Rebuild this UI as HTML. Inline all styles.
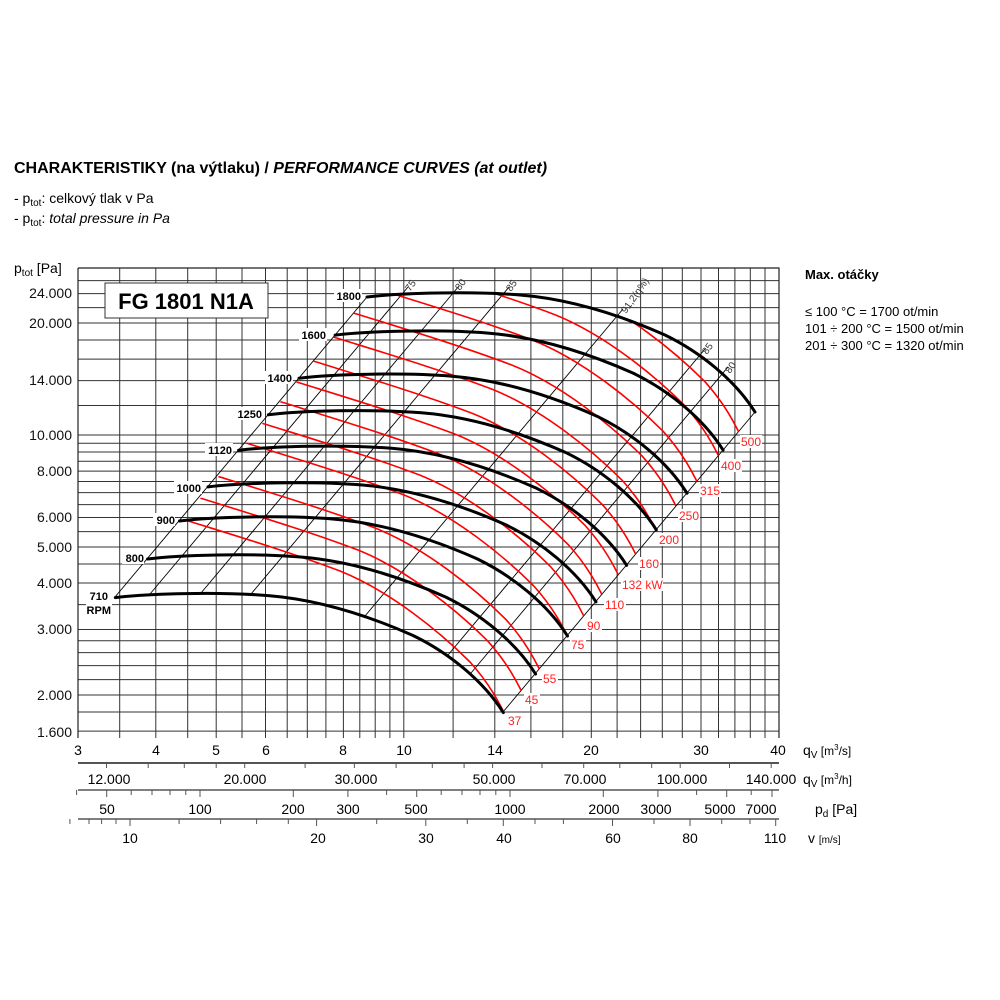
<!DOCTYPE html>
<html><head><meta charset="utf-8"><style>
body{margin:0;background:#fff;}
svg{display:block;font-family:"Liberation Sans",Arial,sans-serif;}
</style></head><body>
<svg width="1000" height="1000" viewBox="0 0 1000 1000" xmlns="http://www.w3.org/2000/svg">
<defs>
<path id="bk" fill="none" stroke="#000" stroke-width="3" stroke-linecap="round" d="M367,297 C400,293 470,291 520,295 C570,299 620,315 665,335 C700,352 735,380 755,412"/>
<path id="rd" fill="none" stroke="#f00" stroke-width="1.6" d="M165,513 L182,519 C230,534 290,552 340,571 C390,591 440,632 470,662 C488,682 500,702 512,730"/>
<clipPath id="rc"><path d="M117,599 L367,297 C400,293 470,291 520,295 C570,299 620,315 665,335 C700,352 735,380 755,412 L503,712 Z"/></clipPath>
</defs>
<rect width="1000" height="1000" fill="#fff"/>
<text x="14" y="173" font-size="16" font-weight="bold">CHARAKTERISTIKY (na výtlaku) / <tspan font-style="italic">PERFORMANCE CURVES (at outlet)</tspan></text>
<text x="14" y="203" font-size="14">- p<tspan font-size="10" dy="3">tot</tspan><tspan dy="-3">: celkový tlak v Pa</tspan></text>
<text x="14" y="223" font-size="14">- p<tspan font-size="10" dy="3">tot</tspan><tspan dy="-3">: </tspan><tspan font-style="italic">total pressure in Pa</tspan></text>
<text x="14" y="273" font-size="14">p<tspan font-size="10" dy="3">tot</tspan><tspan dy="-3"> [Pa]</tspan></text>
<g stroke="#333" stroke-width="1">
<path d="M119.7,268V738M155.8,268V738M187.7,268V738M216.2,268V738M242,268V738M265.5,268V738M287.2,268V738M307.3,268V738M325.9,268V738M343.4,268V738M359.8,268V738M375.2,268V738M389.9,268V738M403.8,268V738M453.1,268V738M494.8,268V738M530.9,268V738M562.8,268V738M591.3,268V738M617.1,268V738M640.6,268V738M662.3,268V738M682.3,268V738M701,268V738M718.5,268V738M734.9,268V738M750.3,268V738M765,268V738"/>
<path d="M78,280.6H779M78,293.6H779M78,307.6H779M78,323H779M78,340H779M78,359.1H779M78,380.6H779M78,405.5H779M78,435H779M78,443.3H779M78,452H779M78,461.3H779M78,471.1H779M78,481.5H779M78,492.6H779M78,504.6H779M78,517.5H779M78,531.6H779M78,547H779M78,564H779M78,583H779M78,604.6H779M78,629.5H779M78,640.7H779M78,652.6H779M78,665.6H779M78,679.6H779M78,695H779M78,712H779M78,731.1H779"/>
</g>
<path d="M78,268H779V738M78,268V738" fill="none" stroke="#222" stroke-width="1.2"/>
<g font-size="14" text-anchor="end" fill="#111">
<text x="72" y="298">24.000</text><text x="72" y="328">20.000</text><text x="72" y="385">14.000</text><text x="72" y="440">10.000</text><text x="72" y="476">8.000</text><text x="72" y="522">6.000</text><text x="72" y="552">5.000</text><text x="72" y="588">4.000</text><text x="72" y="634">3.000</text><text x="72" y="700">2.000</text><text x="72" y="737">1.600</text>
</g>
<rect x="105" y="283" width="163" height="35" fill="#fff" stroke="#333" stroke-width="1"/>
<text x="186" y="309" font-size="22" font-weight="bold" text-anchor="middle">FG 1801 N1A</text>
<g stroke="#000" stroke-width="0.9">
<line x1="115" y1="597" x2="367" y2="297"/>
<line x1="150" y1="594" x2="408" y2="287"/>
<line x1="201" y1="593" x2="459" y2="286"/>
<line x1="251" y1="594" x2="509" y2="287"/>
<line x1="365" y1="616" x2="623" y2="309"/>
<line x1="448" y1="655" x2="705" y2="349"/>
<line x1="471" y1="673" x2="728" y2="367"/>
<line x1="503" y1="712" x2="755" y2="412"/>
</g>
<g font-size="10" fill="#333">
<text transform="translate(410,292) rotate(-55)">75</text>
<text transform="translate(460,291) rotate(-55)">80</text>
<text transform="translate(511,292) rotate(-55)">85</text>
<text transform="translate(626,314) rotate(-55)">91,2(η%)</text>
<text transform="translate(707,355) rotate(-55)">85</text>
<text transform="translate(730,374) rotate(-55)">80</text>
</g>
<g clip-path="url(#rc)">
<use href="#rd"/>
<use href="#rd" transform="translate(17.65,-21.08)"/>
<use href="#rd" transform="translate(35.75,-42.7)"/>
<use href="#rd" transform="translate(63.72,-76.1)"/>
<use href="#rd" transform="translate(80.17,-95.74)"/>
<use href="#rd" transform="translate(98.27,-117.35)"/>
<use href="#rd" transform="translate(114.71,-136.99)"/>
<use href="#rd" transform="translate(132.06,-157.71)"/>
<use href="#rd" transform="translate(152.18,-181.74)"/>
<use href="#rd" transform="translate(172.31,-205.78)"/>
<use href="#rd" transform="translate(193.15,-230.67)"/>
<use href="#rd" transform="translate(214.7,-256.4)"/>
<use href="#rd" transform="translate(234.82,-280.43)"/>
</g>
<use href="#bk"/>
<use href="#bk" transform="translate(-31.9,38.1)"/>
<use href="#bk" transform="translate(-68,81.2)"/>
<use href="#bk" transform="translate(-98.7,117.8)"/>
<use href="#bk" transform="translate(-128.4,153.3)"/>
<use href="#bk" transform="translate(-159,189.9)"/>
<use href="#bk" transform="translate(-187.5,224)"/>
<use href="#bk" transform="translate(-219.4,262)"/>
<use href="#bk" transform="translate(-251.7,300.6)"/>
<g font-size="11" font-weight="bold" text-anchor="end">
<g fill="#fff"><rect x="334" y="289" width="28" height="13"/><rect x="299" y="328" width="28" height="13"/><rect x="265" y="371" width="28" height="13"/><rect x="235" y="407" width="28" height="13"/><rect x="205" y="443" width="28" height="13"/><rect x="174" y="481" width="28" height="13"/><rect x="153" y="513" width="22" height="13"/><rect x="122" y="551" width="22" height="13"/><rect x="86" y="589" width="26" height="28"/></g>
<text x="361" y="300">1800</text><text x="326" y="339">1600</text><text x="292" y="382">1400</text><text x="262" y="418">1250</text><text x="232" y="454">1120</text><text x="201" y="492">1000</text><text x="175" y="524">900</text><text x="144" y="562">800</text>
<text x="108" y="600">710</text><text x="111" y="614">RPM</text>
</g>
<g font-size="12" fill="#f22">
<g fill="#fff"><rect x="507" y="714" width="16" height="13"/><rect x="524" y="693" width="16" height="13"/><rect x="542" y="672" width="16" height="13"/><rect x="570" y="638" width="16" height="13"/><rect x="586" y="619" width="16" height="13"/><rect x="604" y="598" width="22" height="13"/><rect x="621" y="578" width="42" height="13"/><rect x="638" y="557" width="22" height="13"/><rect x="658" y="533" width="22" height="13"/><rect x="678" y="509" width="22" height="13"/><rect x="699" y="484" width="22" height="13"/><rect x="720" y="459" width="22" height="13"/><rect x="740" y="435" width="22" height="13"/></g>
<text x="508" y="725">37</text><text x="525" y="704">45</text><text x="543" y="683">55</text><text x="571" y="649">75</text><text x="587" y="630">90</text><text x="605" y="609">110</text><text x="622" y="589">132 kW</text><text x="639" y="568">160</text><text x="659" y="544">200</text><text x="679" y="520">250</text><text x="700" y="495">315</text><text x="721" y="470">400</text><text x="741" y="446">500</text>
</g>
<text x="805" y="279" font-size="13" font-weight="bold">Max. otáčky</text>
<g font-size="13"><text x="805" y="316">≤ 100 °C = 1700 ot/min</text><text x="805" y="333">101 ÷ 200 °C = 1500 ot/min</text><text x="805" y="350">201 ÷ 300 °C = 1320 ot/min</text></g>
<g font-size="14" text-anchor="middle">
<text x="78" y="755">3</text><text x="156" y="755">4</text><text x="216" y="755">5</text><text x="266" y="755">6</text><text x="343" y="755">8</text><text x="404" y="755">10</text><text x="495" y="755">14</text><text x="591" y="755">20</text><text x="701" y="755">30</text><text x="778" y="755">40</text>
</g>
<text x="803" y="755" font-size="14">q<tspan font-size="10" dy="3">V</tspan><tspan dy="-3" font-size="12"> [m</tspan><tspan font-size="8" dy="-5">3</tspan><tspan font-size="12" dy="5">/s]</tspan></text>
<g stroke="#555" fill="none">
<path d="M78,763H779" stroke-width="2"/>
<path d="M78,790H779" stroke-width="1.5"/>
<path d="M78,819H779" stroke-width="1.5"/>
<path stroke-width="1" d="M106.5,763v5M148.2,763v5M184.3,763v5M216.2,763v5M244.7,763v5M305.1,763v5M354.4,763v5M396.1,763v5M432.3,763v5M464.1,763v5M492.6,763v5M542,763v5M583.7,763v5M619.8,763v5M651.7,763v5M680.2,763v5M729.5,763v5M771.2,763v5"/>
<path stroke-width="1" d="M76.6,790v5M106.7,790v7M131.2,790v5M152,790v5M170,790v5M185.8,790v5M200,790v7M293.3,790v7M347.9,790v7M386.6,790v5M416.7,790v7M441.2,790v5M462,790v5M480,790v5M495.8,790v5M510,790v7M603.3,790v7M657.9,790v7M696.6,790v5M726.7,790v7M751.2,790v5M772,790v7"/>
<path stroke-width="1" d="M69.9,819v5M89,819v5M101.6,819v5M116,819v5M130,819v7M179.1,819v5M220.6,819v5M256.6,819v5M288.3,819v5M316.6,819v7M376.7,819v5M425.8,819v7M467.3,819v5M503.3,819v7M535,819v5M563.4,819v5M612.5,819v7M654,819v5M690,819v7M721.7,819v5M750,819v5M775.7,819v7"/>
</g>
<g font-size="14" text-anchor="middle">
<text x="109" y="784">12.000</text><text x="245" y="784">20.000</text><text x="356" y="784">30.000</text><text x="494" y="784">50.000</text><text x="585" y="784">70.000</text><text x="682" y="784">100.000</text><text x="771" y="784">140.000</text>
<text x="107" y="814">50</text><text x="200" y="814">100</text><text x="293" y="814">200</text><text x="348" y="814">300</text><text x="416" y="814">500</text><text x="510" y="814">1000</text><text x="604" y="814">2000</text><text x="656" y="814">3000</text><text x="720" y="814">5000</text><text x="761" y="814">7000</text>
<text x="130" y="843">10</text><text x="318" y="843">20</text><text x="426" y="843">30</text><text x="504" y="843">40</text><text x="613" y="843">60</text><text x="690" y="843">80</text><text x="775" y="843">110</text>
</g>
<text x="803" y="784" font-size="14">q<tspan font-size="10" dy="3">V</tspan><tspan dy="-3" font-size="12"> [m</tspan><tspan font-size="8" dy="-5">3</tspan><tspan font-size="12" dy="5">/h]</tspan></text>
<text x="815" y="814" font-size="14">p<tspan font-size="10" dy="3">d</tspan><tspan dy="-3"> [Pa]</tspan></text>
<text x="808" y="843" font-size="14">v <tspan font-size="10">[m/s]</tspan></text>
</svg>
</body></html>
